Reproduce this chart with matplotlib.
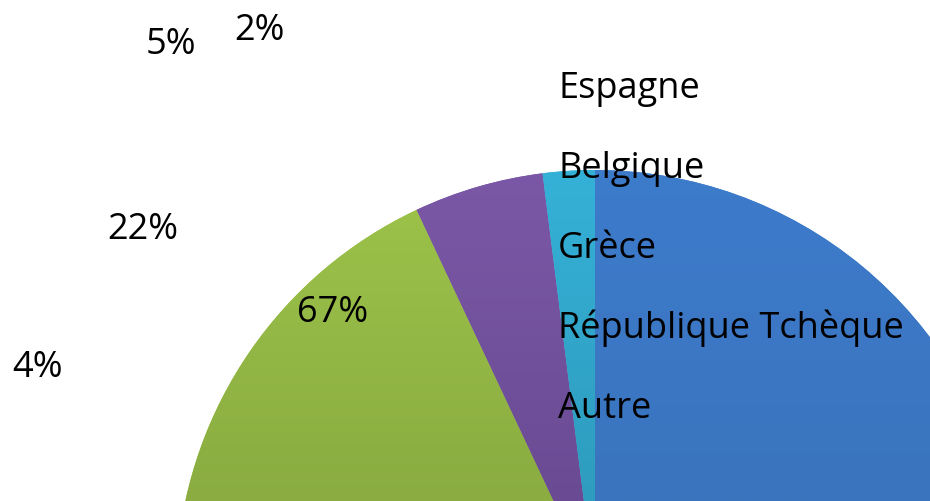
import matplotlib
matplotlib.use("Agg")
import matplotlib.pyplot as plt
import numpy as np
from matplotlib.colors import LinearSegmentedColormap

# Données du graphique
pays = ["Espagne", "Belgique", "Grèce", "République Tchèque", "Autre"]
parts = [22, 4, 67, 5, 2]
# couleur haut / bas (léger dégradé comme dans Excel)
couleurs_haut = ["#3D7BCB", "#C0504D", "#9EC44A", "#7B58A7", "#35B1D7"]
couleurs_bas = ["#3A74BE", "#B04A47", "#8AAC41", "#6A4B93", "#2E9CBE"]

# positions (pixels) des étiquettes de pourcentage, telles qu'elles apparaissent
pos_pct = [(143, 230), (37, 368), (333, 313), (171, 45), (259, 31)]

W, H = 930, 501
fig = plt.figure(figsize=(W / 100, H / 100), dpi=100)
ax = fig.add_axes([0, 0, 1, 1])

# Camembert (centre en dehors de l'image, en bas)
wedges, _ = ax.pie(parts, colors=couleurs_haut, startangle=90, counterclock=False,
                   center=(595, H - 589), radius=419, frame=True,
                   wedgeprops={"linewidth": 0})

# dégradé vertical dans chaque part
grad = np.linspace(0, 1, 256).reshape(-1, 1)
for w, c1, c2 in zip(wedges, couleurs_haut, couleurs_bas):
    cmap = LinearSegmentedColormap.from_list("g", [c2, c1])
    im = ax.imshow(grad, cmap=cmap, extent=(0, W, 0, H - 170), origin="lower",
                   aspect="auto", zorder=w.get_zorder() + 0.1)
    im.set_clip_path(w)

ax.set_xlim(0, W)
ax.set_ylim(0, H)
ax.set_aspect("equal")
ax.axis("off")

police = "Open Sans"
taille = 26

for (x, y), v in zip(pos_pct, parts):
    ax.text(x, H - y, f"{v}%", ha="center", va="center",
            fontsize=taille, family=police, color="black", zorder=5)

for i, nom in enumerate(pays):
    ax.text(558, H - (98 + 80 * i), nom, ha="left", va="baseline",
            fontsize=taille, family=police, color="black", zorder=5)

fig.savefig("out.png", dpi=100)
